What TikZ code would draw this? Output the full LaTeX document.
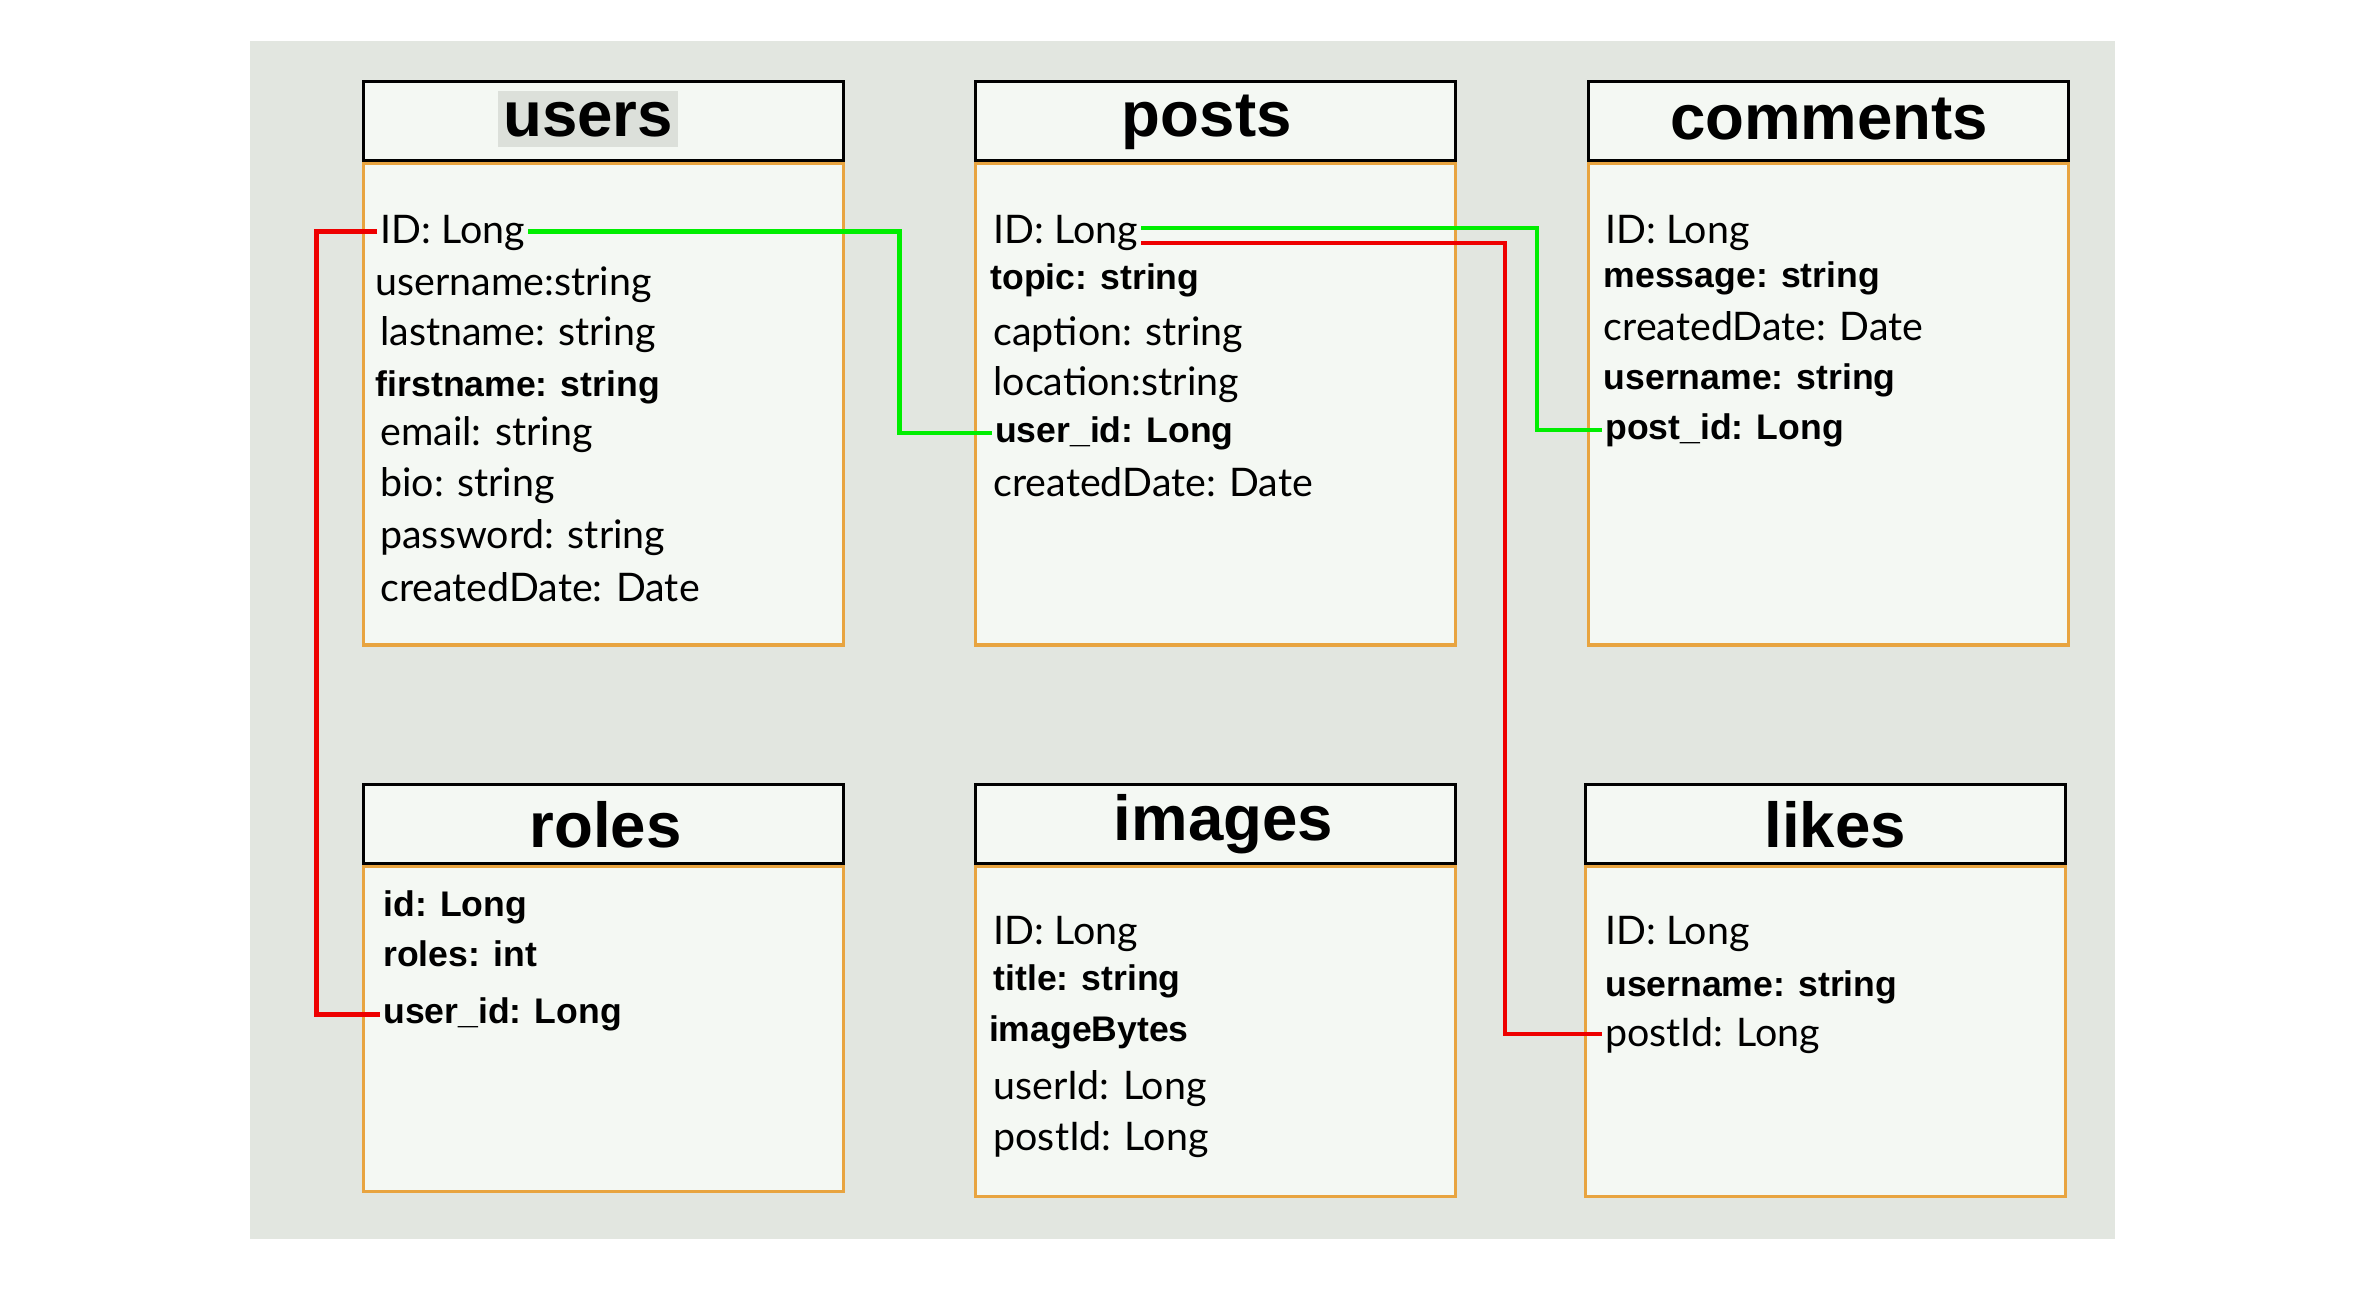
\documentclass[tikz,border=0pt]{standalone}
\usepackage{fontspec}
\usepackage{xcolor}
\setmainfont{Lato}
\newfontfamily\arialfont{Liberation Sans}
\usetikzlibrary{calc, positioning}
\definecolor{BgGrey}{RGB}{226,230,224}
\definecolor{BoxFill}{RGB}{244,248,243}
\definecolor{BoxEdge}{RGB}{232,164,64}
\definecolor{HiGrey}{RGB}{220,224,218}
\definecolor{FkGreen}{RGB}{0,238,0}
\definecolor{FkRed}{RGB}{238,0,0}

\tikzset{
	field/.style={anchor=base west, inner sep=2pt, text height=20pt, text depth=4pt, font=\fontsize{26}{30}\selectfont},
	bfield/.style={anchor=base west, inner sep=2pt, text height=16pt, text depth=4pt, font=\arialfont\bfseries\fontsize{23.5}{26}\selectfont},
	title/.style={anchor=base, inner sep=0pt, font=\arialfont\bfseries\fontsize{42}{44}\selectfont},
	body/.style={draw=BoxEdge, fill=BoxFill, line width=2pt, minimum width=317pt, inner sep=0pt},
	head/.style={draw=black, fill=BoxFill, line width=2pt, minimum width=317pt, minimum height=52pt, inner sep=0pt},
	fk/.style={line width=3pt},
}

% table frame: name, left x, top of body, bottom of body
\newcommand{\Tbl}[4]{%
  \edef\tname{#1}%
  \node[body, anchor=north west, minimum height={#4-#3}] (\tname Body) at (#2,#3) {};
  \node[head, anchor=south west] (\tname Head) at (#2,#3) {};
}

\begin{document}
\begin{tikzpicture}[x=1pt, y=-1pt]

	\useasboundingbox (0,0) rectangle (1560,866.5);
	\fill[BgGrey] (165,27) rectangle (1397,818);

	\Tbl{users}{239}{107}{425}
	\Tbl{posts}{643}{107}{425}
	\Tbl{comments}{1048}{107}{425}
	\Tbl{roles}{239}{571}{786}
	\Tbl{images}{643}{571}{789}
	\Tbl{likes}{1046}{571}{789}

	\node[title, fill=HiGrey, inner xsep=3.5pt, text height=30pt, text depth=7pt] (usersT) at (388.5,90) {users};
	\node[title] (postsT) at (797,90) {posts};
	\node[title] (commentsT) at (1208,92) {comments};
	\node[title] (rolesT) at (400,560) {roles};
	\node[title] (imagesT) at (808,555) {images};
	\node[title] (likesT) at (1212,560) {likes};

	% users
	\node[field] (uID) at (249,161) {ID: Long};
	\node[field] (uUsername) at (246,195) {username:string};
	\node[field] (uLast) at (249,228) {lastname: string};
	\node[bfield] (uFirst) at (246,262) {firstname: string};
	\node[field] (uEmail) at (249,294) {email: string};
	\node[field] (uBio) at (249,328) {bio: string};
	\node[field] (uPass) at (249,362) {password: string};
	\node[field] (uDate) at (249,397) {createdDate: Date};

	% posts
	\node[field] (pID) at (654,160.5) {ID: Long};
	\node[bfield] (pTopic) at (652,191) {topic: string};
	\node[field] (pCaption) at (654,228) {caption: string};
	\node[field] (pLoc) at (654,261) {location:string};
	\node[bfield] (pUser) at (655,292) {user\_id: Long};
	\node[field] (pDate) at (654,328) {createdDate: Date};

	% comments
	\node[field] (cID) at (1058,160.5) {ID: Long};
	\node[bfield] (cMsg) at (1057,190) {message: string};
	\node[field] (cDate) at (1057,225) {createdDate: Date};
	\node[bfield] (cUser) at (1057,257) {username: string};
	\node[bfield] (cPost) at (1058,290) {post\_id: Long};

	% roles
	\node[bfield] (rID) at (251,605) {id: Long};
	\node[bfield] (rRoles) at (251,638) {roles: int};
	\node[bfield] (rUser) at (251,676) {user\_id: Long};

	% images
	\node[field] (iID) at (654,624) {ID: Long};
	\node[bfield] (iTitle) at (654,654) {title: string};
	\node[bfield] (iBytes) at (651,688) {imageBytes};
	\node[field] (iUser) at (654,726) {userId: Long};
	\node[field] (iPost) at (654,760) {postId: Long};

	% likes
	\node[field] (lID) at (1058,624) {ID: Long};
	\node[bfield] (lUser) at (1058,658) {username: string};
	\node[field] (lPost) at (1058,691) {postId: Long};

	% connectors
	\coordinate (bendA) at (594,0);
	\coordinate (bendB) at (209,0);
	\coordinate (bendC) at (1015,0);
	\coordinate (bendD) at (994,0);
	\coordinate (pIDg) at ([yshift=2pt]pID.east);
	\coordinate (pIDr) at ([yshift=-8pt]pID.east);

	\draw[fk, FkGreen] (uID.east) -- (uID.east -| bendA) |- (pUser.west);
	\draw[fk, FkRed] (uID.west) -- (uID.west -| bendB) |- (rUser.west);
	\draw[fk, FkGreen] (pIDg) -- (pIDg -| bendC) |- (cPost.west);
	\draw[fk, FkRed] (pIDr) -- (pIDr -| bendD) |- (lPost.west);

\end{tikzpicture}
\end{document}
